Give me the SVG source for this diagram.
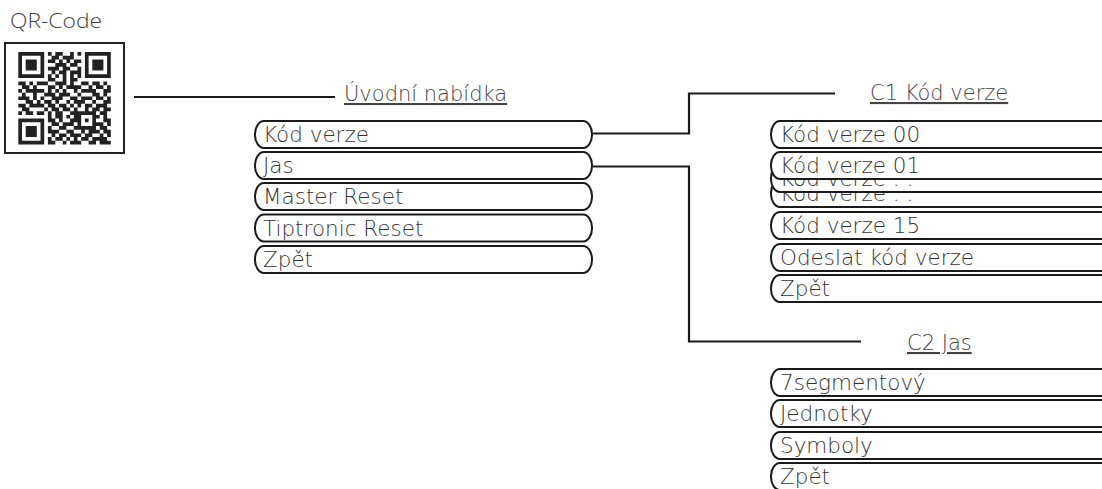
<svg xmlns="http://www.w3.org/2000/svg" width="1102" height="489" viewBox="0 0 1102 489">
<style>
.box{fill:#fff;stroke:#1a1a1a;stroke-width:2}
.lbl{font-family:"DejaVu Sans","Liberation Sans",sans-serif;font-size:21.5px;font-weight:200;fill:#333}
.hdr{font-family:"DejaVu Sans","Liberation Sans",sans-serif;font-size:21px;font-weight:200;fill:#444;text-decoration:underline}
.conn{fill:none;stroke:#1a1a1a;stroke-width:2.2}
</style>
<rect width="1102" height="489" fill="#fff"/>
<g id="qr">
<text x="10" y="28" font-family="'Open Sans','Noto Sans',sans-serif" font-size="20" font-weight="300" fill="#444" textLength="92" lengthAdjust="spacingAndGlyphs">QR-Code</text>
<rect x="5" y="43" width="119" height="110" fill="#fff" stroke="#222" stroke-width="2"/>
<path fill="#222" transform="translate(18.3,52) scale(3.7)" d="M0 0h7v1h-7zM8 0h1v1h-1zM10 0h2v1h-2zM14 0h1v1h-1zM16 0h1v1h-1zM18 0h7v1h-7z
M0 1h1v1h-1zM6 1h1v1h-1zM9 1h2v1h-2zM12 1h3v1h-3zM18 1h1v1h-1zM24 1h1v1h-1z
M0 2h1v1h-1zM2 2h3v1h-3zM6 2h1v1h-1zM8 2h2v1h-2zM11 2h1v1h-1zM13 2h1v1h-1zM15 2h2v1h-2zM18 2h1v1h-1zM20 2h3v1h-3zM24 2h1v1h-1z
M0 3h1v1h-1zM2 3h3v1h-3zM6 3h1v1h-1zM10 3h3v1h-3zM14 3h2v1h-2zM18 3h1v1h-1zM20 3h3v1h-3zM24 3h1v1h-1z
M0 4h1v1h-1zM2 4h3v1h-3zM6 4h1v1h-1zM8 4h3v1h-3zM12 4h2v1h-2zM16 4h1v1h-1zM18 4h1v1h-1zM20 4h3v1h-3zM24 4h1v1h-1z
M0 5h1v1h-1zM6 5h1v1h-1zM9 5h1v1h-1zM11 5h2v1h-2zM14 5h3v1h-3zM18 5h1v1h-1zM24 5h1v1h-1z
M0 6h7v1h-7zM8 6h1v1h-1zM10 6h1v1h-1zM12 6h1v1h-1zM14 6h1v1h-1zM16 6h1v1h-1zM18 6h7v1h-7z
M8 7h2v1h-2zM12 7h1v1h-1zM14 7h2v1h-2z
M0 8h2v1h-2zM3 8h1v1h-1zM5 8h3v1h-3zM10 8h3v1h-3zM14 8h1v1h-1zM17 8h2v1h-2zM20 8h2v1h-2zM23 8h1v1h-1z
M1 9h2v1h-2zM4 9h1v1h-1zM8 9h2v1h-2zM11 9h1v1h-1zM13 9h4v1h-4zM19 9h1v1h-1zM21 9h2v1h-2zM24 9h1v1h-1z
M0 10h1v1h-1zM2 10h5v1h-5zM8 10h1v1h-1zM10 10h1v1h-1zM12 10h1v1h-1zM15 10h1v1h-1zM17 10h4v1h-4zM23 10h2v1h-2z
M1 11h1v1h-1zM4 11h1v1h-1zM7 11h3v1h-3zM11 11h3v1h-3zM16 11h1v1h-1zM20 11h2v1h-2zM23 11h1v1h-1z
M0 12h3v1h-3zM4 12h1v1h-1zM6 12h1v1h-1zM9 12h3v1h-3zM14 12h2v1h-2zM17 12h3v1h-3zM21 12h2v1h-2zM24 12h1v1h-1z
M2 13h2v1h-2zM5 13h1v1h-1zM7 13h2v1h-2zM10 13h1v1h-1zM13 13h1v1h-1zM15 13h3v1h-3zM20 13h1v1h-1zM23 13h2v1h-2z
M0 14h2v1h-2zM3 14h4v1h-4zM8 14h2v1h-2zM11 14h2v1h-2zM14 14h1v1h-1zM16 14h1v1h-1zM18 14h2v1h-2zM21 14h3v1h-3z
M1 15h2v1h-2zM7 15h1v1h-1zM9 15h2v1h-2zM12 15h2v1h-2zM15 15h1v1h-1zM18 15h1v1h-1zM20 15h2v1h-2zM23 15h2v1h-2z
M0 16h1v1h-1zM2 16h2v1h-2zM5 16h2v1h-2zM8 16h1v1h-1zM10 16h2v1h-2zM14 16h7v1h-7zM22 16h2v1h-2z
M8 17h1v1h-1zM10 17h2v1h-2zM13 17h1v1h-1zM15 17h2v1h-2zM20 17h2v1h-2zM23 17h1v1h-1z
M0 18h7v1h-7zM8 18h2v1h-2zM11 18h1v1h-1zM14 18h3v1h-3zM18 18h1v1h-1zM20 18h1v1h-1zM23 18h2v1h-2z
M0 19h1v1h-1zM6 19h1v1h-1zM9 19h2v1h-2zM12 19h3v1h-3zM16 19h1v1h-1zM20 19h3v1h-3zM24 19h1v1h-1z
M0 20h1v1h-1zM2 20h3v1h-3zM6 20h1v1h-1zM8 20h1v1h-1zM11 20h2v1h-2zM15 20h6v1h-6zM22 20h2v1h-2z
M0 21h1v1h-1zM2 21h3v1h-3zM6 21h1v1h-1zM8 21h3v1h-3zM13 21h2v1h-2zM17 21h1v1h-1zM19 21h3v1h-3zM23 21h2v1h-2z
M0 22h1v1h-1zM2 22h3v1h-3zM6 22h1v1h-1zM9 22h1v1h-1zM11 22h2v1h-2zM14 22h3v1h-3zM18 22h2v1h-2zM22 22h1v1h-1zM24 22h1v1h-1z
M0 23h1v1h-1zM6 23h1v1h-1zM8 23h1v1h-1zM10 23h2v1h-2zM13 23h1v1h-1zM15 23h1v1h-1zM17 23h2v1h-2zM20 23h4v1h-4z
M0 24h7v1h-7zM8 24h2v1h-2zM12 24h1v1h-1zM14 24h3v1h-3zM19 24h2v1h-2zM22 24h3v1h-3z"/>
</g>
<g id="connectors">
<line class="conn" x1="134" y1="97" x2="335" y2="97"/>
<polyline class="conn" points="593,133.5 689,133.5 689,93.5 835,93.5"/>
<polyline class="conn" points="593,166.5 689,166.5 689,341.5 861,341.5"/>
</g>
<g id="main-title"><text class="hdr" x="344" y="101">Úvodní nabídka</text></g>
<g id="main-kod"><rect class="box" x="255" y="121" width="337" height="27" rx="9" ry="13"/><text class="lbl" x="263" y="142">Kód verze</text></g>
<g id="main-jas"><rect class="box" x="255" y="152" width="337" height="27" rx="9" ry="13"/><text class="lbl" x="263" y="173">Jas</text></g>
<g id="main-master"><rect class="box" x="255" y="183" width="337" height="27" rx="9" ry="13"/><text class="lbl" x="263" y="204">Master Reset</text></g>
<g id="main-tiptronic"><rect class="box" x="255" y="214.5" width="337" height="27" rx="9" ry="13"/><text class="lbl" x="263" y="235.5">Tiptronic Reset</text></g>
<g id="main-zpet"><rect class="box" x="255" y="246" width="337" height="27" rx="9" ry="13"/><text class="lbl" x="263" y="267">Zpět</text></g>
<g id="c1-title"><text class="hdr" x="870" y="100">C1 Kód verze</text></g>
<g id="c1-00"><rect class="box" x="771" y="121" width="339" height="27" rx="9" ry="13"/><text class="lbl" x="780" y="142">Kód verze 00</text></g>
<g id="c1-dots2"><rect class="box" x="771" y="180" width="339" height="27" rx="9" ry="13"/><text class="lbl" x="780" y="201">Kód verze . .</text></g>
<g id="c1-dots1"><rect class="box" x="771" y="165" width="339" height="27" rx="9" ry="13"/><text class="lbl" x="780" y="186">Kód verze . .</text></g>
<g id="c1-01"><rect class="box" x="771" y="152" width="339" height="27" rx="9" ry="13"/><text class="lbl" x="780" y="173">Kód verze 01</text></g>
<g id="c1-15"><rect class="box" x="771" y="212" width="339" height="27" rx="9" ry="13"/><text class="lbl" x="780" y="233">Kód verze 15</text></g>
<g id="c1-odeslat"><rect class="box" x="771" y="244" width="339" height="27" rx="9" ry="13"/><text class="lbl" x="780" y="265">Odeslat kód verze</text></g>
<g id="c1-zpet"><rect class="box" x="771" y="275" width="339" height="27" rx="9" ry="13"/><text class="lbl" x="780" y="296">Zpět</text></g>
<g id="c2-title"><text class="hdr" x="907" y="350">C2 Jas</text></g>
<g id="c2-7seg"><rect class="box" x="771" y="369" width="339" height="27" rx="9" ry="13"/><text class="lbl" x="780" y="390">7segmentový</text></g>
<g id="c2-jednotky"><rect class="box" x="771" y="400" width="339" height="27" rx="9" ry="13"/><text class="lbl" x="780" y="421">Jednotky</text></g>
<g id="c2-symboly"><rect class="box" x="771" y="432" width="339" height="27" rx="9" ry="13"/><text class="lbl" x="780" y="453">Symboly</text></g>
<g id="c2-zpet"><rect class="box" x="771" y="463" width="339" height="27" rx="9" ry="13"/><text class="lbl" x="780" y="484">Zpět</text></g>
</svg>
